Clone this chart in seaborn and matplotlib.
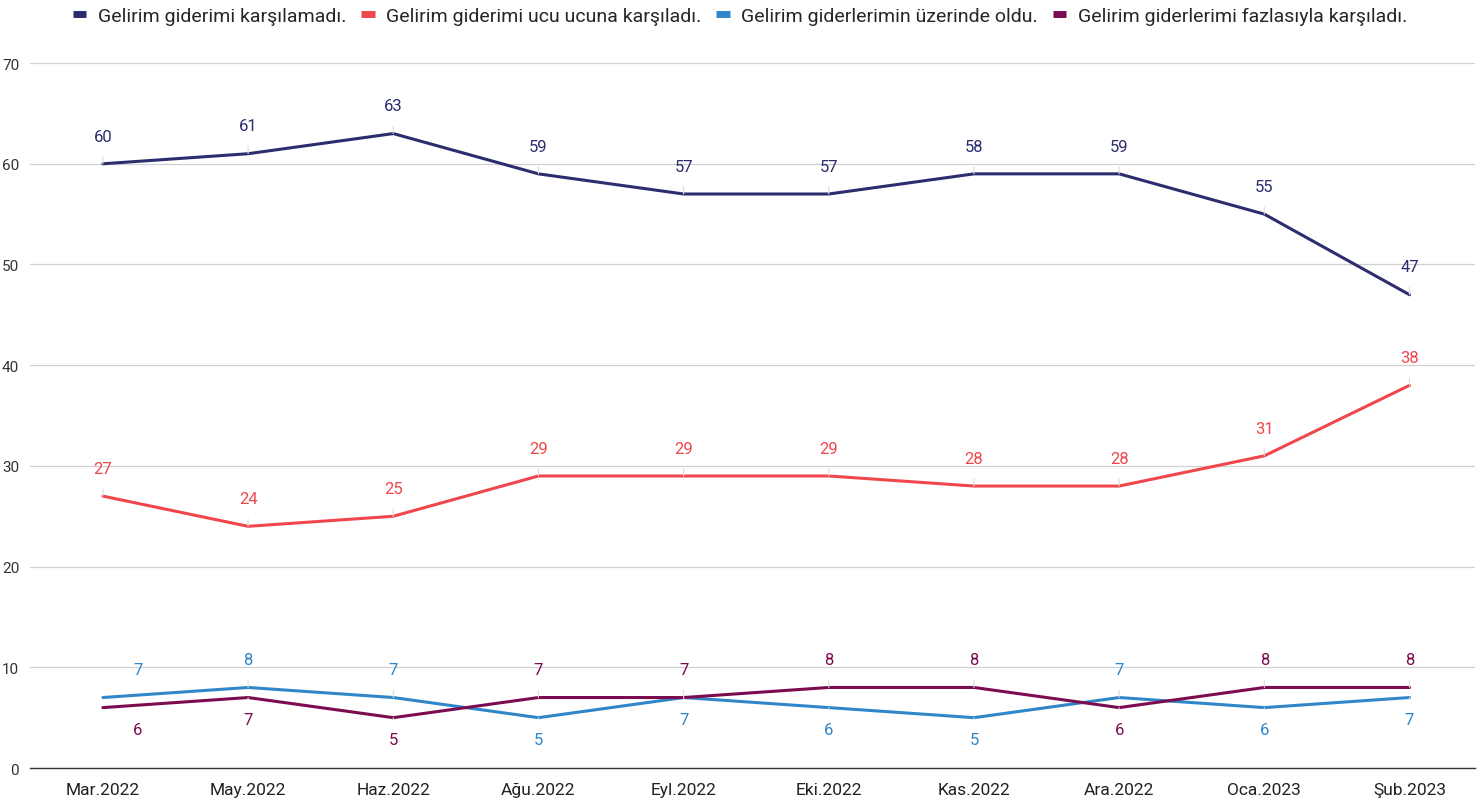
import matplotlib
matplotlib.use("Agg")
import matplotlib.pyplot as plt
import pandas as pd
import seaborn as sns

sns.set_theme(style="white")
plt.rcParams["font.family"] = ["Roboto", "DejaVu Sans"]

# veriler
aylar = ["Mar.2022", "May.2022", "Haz.2022", "Ağu.2022", "Eyl.2022",
         "Eki.2022", "Kas.2022", "Ara.2022", "Oca.2023", "Şub.2023"]
karsilamadi = [60, 61, 63, 59, 57, 57, 59, 59, 55, 47]
# grafikte Kas.2022 noktası 59 hizasında ama etiketi 58 yazıyor
karsilamadi_etiket = [60, 61, 63, 59, 57, 57, 58, 59, 55, 47]
ucu_ucuna = [27, 24, 25, 29, 29, 29, 28, 28, 31, 38]
uzerinde = [7, 8, 7, 5, 7, 6, 5, 7, 6, 7]
fazlasiyla = [6, 7, 5, 7, 7, 8, 8, 6, 8, 8]

seriler = {
    "Gelirim giderimi karşılamadı.": karsilamadi,
    "Gelirim giderimi ucu ucuna karşıladı.": ucu_ucuna,
    "Gelirim giderlerimin üzerinde oldu.": uzerinde,
    "Gelirim giderlerimi fazlasıyla karşıladı.": fazlasiyla,
}
renkler = ["#2b2d6e", "#f0474c", "#2f86c8", "#7c0c50"]

df = pd.DataFrame({
    "ay": aylar * len(seriler),
    "x": list(range(len(aylar))) * len(seriler),
    "seri": [s for s in seriler for _ in aylar],
    "deger": [v for s in seriler.values() for v in s],
})

fig = plt.figure(figsize=(14.8, 8.04), dpi=100)
ax = fig.add_axes([0.0205, 0.0435, 0.976, 0.8768])

sns.lineplot(data=df, x="x", y="deger", hue="seri", palette=renkler,
             linewidth=2.2, ax=ax, legend=True, sort=False)

ax.set_xlim(-0.5, 9.45)
ax.set_ylim(0, 70)
ax.set_yticks(range(0, 71, 10))
ax.set_xticks(range(len(aylar)))
ax.set_xticklabels(aylar)
ax.tick_params(axis="x", length=0, pad=10, labelsize=12.5, colors="#222222")
ax.tick_params(axis="y", length=0, pad=8, labelsize=11, colors="#333333")
ax.grid(axis="y", color="#d0d0d0", linewidth=0.9)
ax.set_xlabel("")
ax.set_ylabel("")
for s in ["top", "right", "left"]:
    ax.spines[s].set_visible(False)
ax.spines["bottom"].set_color("#333333")
ax.spines["bottom"].set_linewidth(1.0)


def etiket(x, y, metin, renk, yukari, dx=0):
    dy = 20 if yukari else -16
    ax.annotate(str(metin), xy=(x, y), xytext=(dx, dy), textcoords="offset points",
                ha="center", va="center", fontsize=12, color=renk,
                arrowprops=dict(arrowstyle="-", color="#dcdcdc", lw=0.8,
                                shrinkA=7, shrinkB=0) if dx == 0 else None)


for i in range(len(aylar)):
    etiket(i, karsilamadi[i], karsilamadi_etiket[i], renkler[0], True)
    etiket(i, ucu_ucuna[i], ucu_ucuna[i], renkler[1], True)
    mavi_ust = uzerinde[i] > fazlasiyla[i]
    dx = 25 if i == 0 else 0
    etiket(i, uzerinde[i], uzerinde[i], renkler[2], mavi_ust, dx)
    etiket(i, fazlasiyla[i], fazlasiyla[i], renkler[3], not mavi_ust, dx)

h, l = ax.get_legend_handles_labels()
ax.get_legend().remove()
leg = fig.legend(h, l, loc="upper center", bbox_to_anchor=(0.5, 1.012), ncol=4,
                 frameon=False, fontsize=14, handlelength=0.7, handletextpad=0.6,
                 columnspacing=0.75)
for ln in leg.get_lines():
    ln.set_linewidth(5)
    ln.set_solid_capstyle("butt")

fig.savefig("out.png", dpi=100)
